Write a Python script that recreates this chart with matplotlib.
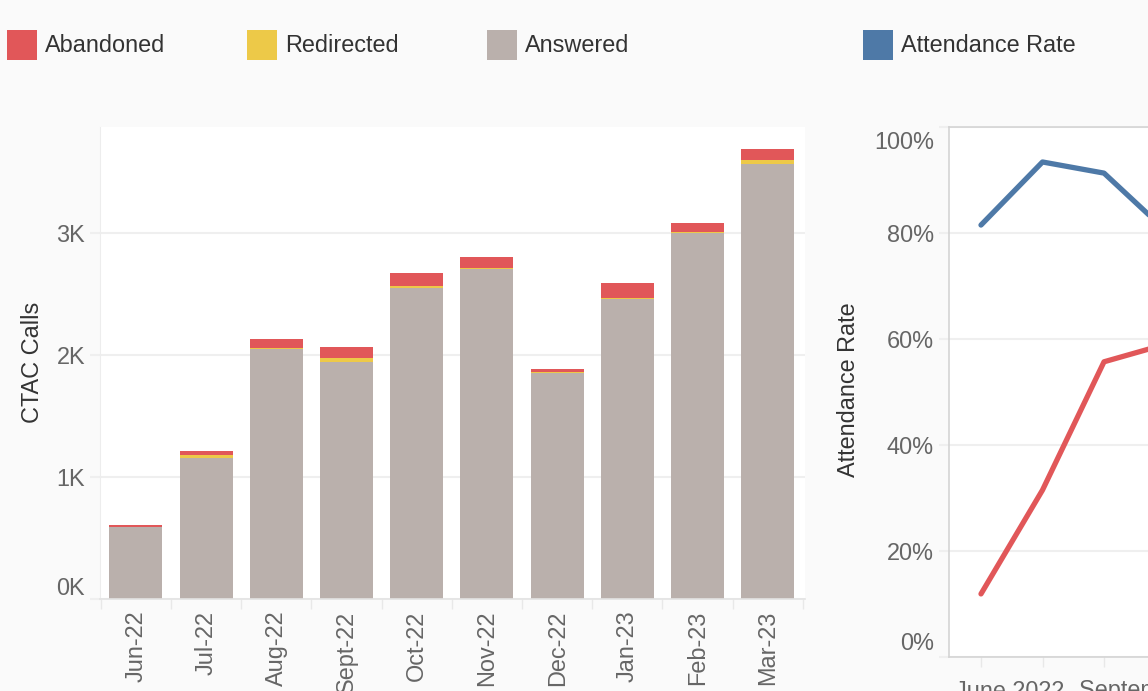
import matplotlib

matplotlib.use("Agg")
import matplotlib.pyplot as plt
import matplotlib.transforms as mtransforms
import numpy as np
from matplotlib.patches import Rectangle
from matplotlib.ticker import FuncFormatter

# ── data ─────────────────────────────────────────────────────────────────
months = ["Jun-22", "Jul-22", "Aug-22", "Sept-22", "Oct-22",
          "Nov-22", "Dec-22", "Jan-23", "Feb-23", "Mar-23"]
answered = [585, 1156, 2046, 1943, 2549, 2702, 1850, 2454, 2997, 3566]
redirected = [2, 22, 11, 30, 17, 11, 8, 11, 11, 32]
abandoned = [17, 33, 72, 90, 106, 90, 25, 125, 74, 88]

rate_months = ["June 2022", "July 2022", "August 2022", "September 2022"]
attendance_rate = [0.815, 0.934, 0.913, 0.805]
other_rate = [0.119, 0.315, 0.557, 0.590]

RED, YELLOW, GREY, BLUE = "#E15759", "#EDC948", "#BAB0AC", "#4E79A7"
TICK_C, TEXT_C, GRID_C = "#666666", "#333333", "#EFEFEF"
FS = 16.9

plt.rcParams["font.family"] = ["Liberation Sans", "DejaVu Sans"]

W, H = 1148, 691
fig = plt.figure(figsize=(W / 100, H / 100), dpi=100, facecolor="#FAFAFA")


def px_box(left, top, right, bottom):
    return [left / W, 1 - bottom / H, (right - left) / W, (bottom - top) / H]


def shift_label(label, dx_px=0, dy_px=0):
    offset = mtransforms.ScaledTranslation(dx_px / 100, dy_px / 100, fig.dpi_scale_trans)
    label.set_transform(label.get_transform() + offset)


# ── legend across the top ────────────────────────────────────────────────
legend_items = [("Abandoned", RED, 7), ("Redirected", YELLOW, 247),
                ("Answered", GREY, 487), ("Attendance Rate", BLUE, 863)]
for name, color, x0 in legend_items:
    fig.add_artist(Rectangle((x0 / W, 1 - 60 / H), 30 / W, 30 / H,
                             transform=fig.transFigure, color=color, lw=0))
    fig.text((x0 + 38) / W, 1 - 45.5 / H, name, fontsize=FS, color=TEXT_C,
             ha="left", va="center")

# ── stacked bars ─────────────────────────────────────────────────────────
ax1 = fig.add_axes(px_box(100, 127, 805, 598.7))
ax1.set_facecolor("white")
x = np.arange(len(months))
bottom2 = np.array(answered)
bottom3 = bottom2 + np.array(redirected)
bar_kw = dict(width=0.755, linewidth=0, zorder=2)
ax1.bar(x, answered, color=GREY, **bar_kw)
ax1.bar(x, redirected, bottom=bottom2, color=YELLOW, **bar_kw)
ax1.bar(x, abandoned, bottom=bottom3, color=RED, **bar_kw)

ax1.set_xlim(-0.51, 9.53)
ax1.set_ylim(0, 3866)
ax1.set_yticks([0, 1000, 2000, 3000])
ax1.yaxis.set_major_formatter(FuncFormatter(lambda v, _: f"{v / 1000:.0f}K"))
ax1.set_xticks(x)
ax1.set_xticklabels(months, rotation=90)
ax1.set_xticks(np.arange(-0.5, 10.0, 1.0), minor=True)
ax1.grid(axis="y", color=GRID_C, lw=1.5, zorder=0)
ax1.set_axisbelow(True)
ax1.tick_params(axis="y", length=7.2, width=1.5, color=GRID_C, pad=3.6,
                labelsize=FS, labelcolor=TICK_C)
ax1.tick_params(axis="x", which="major", length=0, pad=8.5,
                labelsize=FS, labelcolor=TICK_C)
ax1.tick_params(axis="x", which="minor", length=7.2, width=1, color="#E8E8E8")
for side in ("top", "right"):
    ax1.spines[side].set_visible(False)
ax1.spines["left"].set_color("#EDEDED")
ax1.spines["bottom"].set_color("#E3E3E3")
ax1.spines["bottom"].set_linewidth(1.2)
ax1.set_ylabel("CTAC Calls", fontsize=FS, color=TEXT_C)
ax1.yaxis.set_label_coords(-0.079, 0.5)
shift_label(ax1.get_yticklabels()[0], dy_px=13)

# ── attendance rate lines (cropped on the right) ─────────────────────────
ax2 = fig.add_axes(px_box(949, 127, 1566, 657))
ax2.set_facecolor("white")
xr = np.arange(len(rate_months))
ax2.plot(xr, attendance_rate, color=BLUE, lw=3.8, solid_capstyle="round",
         solid_joinstyle="round", zorder=3)
ax2.plot(xr, other_rate, color=RED, lw=3.8, solid_capstyle="round",
         solid_joinstyle="round", zorder=3)
ax2.set_xlim(-0.52, 9.51)
ax2.set_ylim(0, 1)
ax2.set_yticks(np.arange(0, 1.01, 0.2))
ax2.yaxis.set_major_formatter(FuncFormatter(lambda v, _: f"{v * 100:.0f}%"))
ax2.set_xticks(xr)
ax2.set_xticklabels([m if i % 3 == 0 else "" for i, m in enumerate(rate_months)])
ax2.grid(axis="y", color=GRID_C, lw=1.5, zorder=0)
ax2.set_axisbelow(True)
ax2.tick_params(axis="y", length=7.2, width=1.5, color=GRID_C, pad=3.6,
                labelsize=FS, labelcolor=TICK_C)
ax2.tick_params(axis="x", length=7.2, width=1, color="#E8E8E8", pad=9,
                labelsize=FS, labelcolor=TICK_C)
for spine in ax2.spines.values():
    spine.set_color("#D4D4D4")
    spine.set_linewidth(1.2)
ax2.set_ylabel("Attendance Rate", fontsize=FS, color=TEXT_C)
ax2.yaxis.set_label_coords(-0.145, 0.504)
# first date label is kept inside the pane, the others are centred
first_label = ax2.get_xticklabels()[0]
first_label.set_ha("left")
shift_label(first_label, dx_px=-26)
ylabels = ax2.get_yticklabels()
shift_label(ylabels[0], dy_px=16)
shift_label(ylabels[-1], dy_px=-13)

fig.savefig("out.png", dpi=100, facecolor=fig.get_facecolor())
